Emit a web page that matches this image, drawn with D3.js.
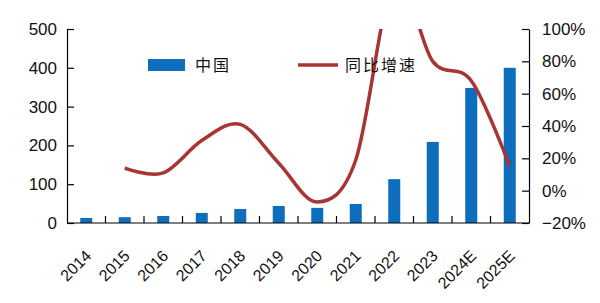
<!DOCTYPE html>
<html><head><meta charset="utf-8">
<script src="https://cdn.jsdelivr.net/npm/d3@7"></script>
<style>body{margin:0;background:#fff;}svg{display:block;}</style>
</head><body><svg id="c" width="600" height="303"></svg>
<script>
const categories = ["2014","2015","2016","2017","2018","2019","2020","2021","2022","2023","2024E","2025E"];
const chinaValues = [13,15,18,26,36,44,39,49,113,209,348,400];
const growthValues = [null,14,11,31,41,17,-7,19,130,80,68,15];
const leftTicks = [0,100,200,300,400,500];
const rightTicks = [-20,0,20,40,60,80,100];
const seriesNames = ["中国","同比增速"];

const svg = d3.select("#c");
const L = 67, R = 529, T = 29, B = 223;
const barColor = "#0C6EBD", lineColor = "#A93434";

const x = d3.scaleBand().domain(categories).range([L, R]).paddingInner(0).paddingOuter(0);
const yL = d3.scaleLinear().domain([0, 500]).range([B, T]);
const yR = d3.scaleLinear().domain([-20, 100]).range([B, T]);
const barW = 12;

svg.append("defs").append("clipPath").attr("id","clip")
  .append("rect").attr("x", L).attr("y", T).attr("width", R - L).attr("height", B - T);

// bars
svg.append("g").selectAll("rect").data(categories).join("rect")
  .attr("x", d => x(d) + x.bandwidth()/2 - barW/2)
  .attr("width", barW)
  .attr("y", (d,i) => yL(chinaValues[i]))
  .attr("height", (d,i) => B - yL(chinaValues[i]))
  .attr("fill", barColor);

// line
const pts = categories.map((c,i)=>({c, v: growthValues[i]})).filter(d => d.v !== null);
const line = d3.line().x(d => x(d.c) + x.bandwidth()/2).y(d => yR(d.v)).curve(d3.curveCardinal.tension(0));
svg.append("path").datum(pts).attr("d", line).attr("fill","none")
  .attr("stroke", lineColor).attr("stroke-width", 3.5).attr("clip-path","url(#clip)");

const font = "'Liberation Sans', Arial, sans-serif";

// left axis
const gl = svg.append("g").attr("transform", `translate(${L},0)`)
  .call(d3.axisLeft(yL).tickValues(leftTicks).tickSizeInner(-7).tickSizeOuter(0).tickPadding(10));
// right axis
const gr = svg.append("g").attr("transform", `translate(${R},0)`)
  .call(d3.axisRight(yR).tickValues(rightTicks).tickFormat(d => d + "%").tickSizeInner(-7).tickSizeOuter(0).tickPadding(13));
[gl, gr].forEach(g => {
  g.select(".domain").attr("stroke","#000").attr("stroke-width",1.2);
  g.selectAll(".tick line").attr("stroke","#000").attr("stroke-width",1.2);
  g.selectAll(".tick text").attr("font-family", font).attr("font-size", 17).attr("fill","#111");
});
gr.selectAll(".tick text").text(d => d < 0 ? "\u2212" + Math.abs(d) + "%" : d + "%");

// bottom axis
const gb = svg.append("g").attr("transform", `translate(0,${B})`);
gb.append("line").attr("x1", L).attr("x2", R).attr("stroke","#000").attr("stroke-width",1.2);
gb.selectAll("line.tk").data(categories.slice(1)).join("line").attr("class","tk")
  .attr("x1", d => x(d)).attr("x2", d => x(d)).attr("y1", 0).attr("y2", -7)
  .attr("stroke","#000").attr("stroke-width",1.2);
gb.selectAll("text").data(categories).join("text")
  .attr("transform", d => `translate(${x(d) + x.bandwidth()/2 + 2},${30}) rotate(-45)`)
  .attr("text-anchor","end").attr("dy","0.35em")
  .attr("font-family", font).attr("font-size", 16).attr("fill","#111")
  .text(d => d);

// legend
const cjk = "'Noto Sans CJK SC', sans-serif";
const lg = svg.append("g");
lg.append("rect").attr("x",148).attr("y",59).attr("width",37).attr("height",12).attr("fill",barColor);
lg.append("text").attr("x",195).attr("y",65).attr("dy","0.35em").attr("font-family",cjk).attr("font-size",16)
  .attr("letter-spacing",2).attr("fill","#111").text(seriesNames[0]);
lg.append("line").attr("x1",298).attr("x2",338).attr("y1",65).attr("y2",65)
  .attr("stroke",lineColor).attr("stroke-width",3.5);
lg.append("text").attr("x",345).attr("y",65).attr("dy","0.35em").attr("font-family",cjk).attr("font-size",16)
  .attr("letter-spacing",2).attr("fill","#111").text(seriesNames[1]);
</script></body></html>
